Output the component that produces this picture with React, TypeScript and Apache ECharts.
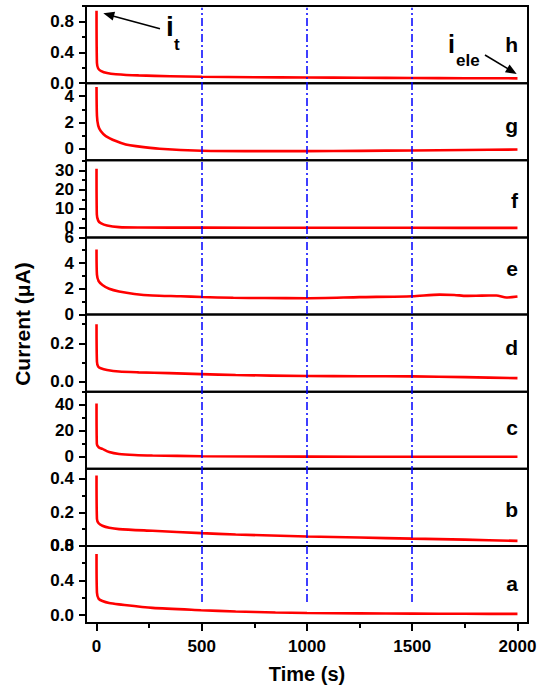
import React, { useEffect, useRef } from "react";
import * as echarts from "echarts";

// ---------- data ----------
const panelNames = ["h", "g", "f", "e", "d", "c", "b", "a"];

const curveH: [number, number][] = [
  [0, 0.94], [2, 0.26], [8, 0.19], [20, 0.16], [50, 0.13], [92, 0.115], [200, 0.1],
  [350, 0.09], [500, 0.083], [750, 0.077], [1000, 0.072], [1250, 0.07], [1500, 0.066],
  [1750, 0.064], [2000, 0.062],
];
const curveG: [number, number][] = [
  [0, 4.7], [2, 2.5], [8, 1.75], [20, 1.34], [44, 0.95], [92, 0.57], [139, 0.31],
  [187, 0.18], [300, -0.02], [500, -0.17], [750, -0.2], [1000, -0.2], [1250, -0.18],
  [1500, -0.15], [1750, -0.12], [2000, -0.08],
];
const curveF: [number, number][] = [
  [0, 31], [1.5, 7], [8, 3.8], [20, 2.5], [50, 1.2], [107, 0.4], [200, 0.2],
  [500, 0.1], [1000, 0.05], [1500, 0.02], [2000, 0.0],
];
const curveE: [number, number][] = [
  [0, 5.05], [2, 3.1], [10, 2.6], [28, 2.3], [60, 2.0], [107, 1.79], [180, 1.6],
  [266, 1.48], [400, 1.42], [500, 1.36], [650, 1.3], [800, 1.28], [1000, 1.27],
  [1250, 1.35], [1500, 1.42], [1630, 1.55], [1700, 1.52], [1757, 1.45], [1830, 1.47],
  [1900, 1.48], [1947, 1.32], [2000, 1.4],
];
const curveD: [number, number][] = [
  [0, 0.3], [2, 0.105], [8, 0.08], [20, 0.071], [50, 0.062], [107, 0.054], [200, 0.05],
  [345, 0.046], [497, 0.041], [661, 0.036], [1000, 0.031], [1250, 0.03], [1500, 0.029],
  [1750, 0.025], [2000, 0.02],
];
const curveC: [number, number][] = [
  [0, 41], [1.5, 10], [10, 7.5], [28, 6.2], [60, 3.8], [107, 2.3], [180, 1.5],
  [266, 1.1], [500, 0.6], [1000, 0.3], [1500, 0.2], [2000, 0.2],
];
const curveB: [number, number][] = [
  [0, 0.42], [2, 0.16], [10, 0.135], [28, 0.12], [60, 0.108], [107, 0.1], [266, 0.09],
  [497, 0.076], [661, 0.068], [1000, 0.056], [1250, 0.05], [1500, 0.043], [1750, 0.037],
  [2000, 0.03],
];
const curveA: [number, number][] = [
  [0, 0.707], [2, 0.26], [10, 0.19], [28, 0.163], [60, 0.14], [107, 0.125], [266, 0.085],
  [497, 0.058], [661, 0.042], [850, 0.032], [1000, 0.026], [1250, 0.021], [1500, 0.018],
  [1750, 0.016], [2000, 0.015],
];
const panelCurves = [curveH, curveG, curveF, curveE, curveD, curveC, curveB, curveA];

const yMin = [0, -0.9, -5, 0, -0.05, -9, 0, -0.09];
const yMax = [1.0, 5.0, 35.5, 6, 0.35, 50, 0.46, 0.8];
const yMajorTicks = [
  [0, 0.4, 0.8], [0, 2, 4], [0, 10, 20, 30], [0, 2, 4, 6],
  [0, 0.2], [0, 20, 40], [0, 0.2, 0.4], [0, 0.4, 0.8],
];
const yMinorTicks = [
  [0.2, 0.6, 1.0], [1, 3, 5], [5, 15, 25, 35], [1, 3, 5],
  [0.1, 0.3], [10, 30, 50], [0.1, 0.3], [0.2, 0.6],
];
const yDecimals = [1, 0, 0, 0, 1, 0, 1, 1];

const xMin = -50;
const xMax = 2050;
const xMajorTicks = [0, 500, 1000, 1500, 2000];
const xMinorTicks = [250, 750, 1250, 1750];
const guideTimes = [500, 1000, 1500];

const xTitle = "Time (s)";
const yTitle = "Current (\u03bcA)";

// ---------- layout / style ----------
const FONT = "'Liberation Sans', Arial, sans-serif";
const W = 545;
const H = 687;
const PLOT_LEFT = 86;
const PLOT_RIGHT = 528;
const PLOT_TOP = 6;
const PLOT_BOTTOM = 623;
const N = panelNames.length;
const PANEL_H = (PLOT_BOTTOM - PLOT_TOP) / N;
const labelOffsets = [38, 42, 40, 31, 33, 36, 41, 38];
const guideSpan = [0.034, 0.997];

function arrow(tail: [number, number], tip: [number, number], headLen: number, headHalf: number) {
  const dx = tip[0] - tail[0];
  const dy = tip[1] - tail[1];
  const len = Math.sqrt(dx * dx + dy * dy);
  const ux = dx / len;
  const uy = dy / len;
  const bx = tip[0] - ux * headLen;
  const by = tip[1] - uy * headLen;
  const nx = -uy;
  const ny = ux;
  return [
    {
      type: "line",
      shape: { x1: tail[0], y1: tail[1], x2: bx + ux * 2, y2: by + uy * 2 },
      style: { stroke: "#000", lineWidth: 1.6 },
      z: 20,
    },
    {
      type: "polygon",
      shape: {
        points: [
          [tip[0], tip[1]],
          [bx + nx * headHalf, by + ny * headHalf],
          [bx - nx * headHalf, by - ny * headHalf],
        ],
      },
      style: { fill: "#000" },
      z: 20,
    },
  ];
}

export default function App() {
  const ref = useRef<HTMLDivElement>(null);

  useEffect(() => {
    if (!ref.current) return;
    const chart = echarts.init(ref.current, undefined, { renderer: "svg" });

    const grids: any[] = panelNames.map((_, i) => ({
      left: PLOT_LEFT,
      width: PLOT_RIGHT - PLOT_LEFT,
      top: PLOT_TOP + i * PANEL_H,
      height: PANEL_H,
      show: true,
      borderColor: "#000",
      borderWidth: 2,
      backgroundColor: "transparent",
      containLabel: false,
    }));
    grids.push({
      left: PLOT_LEFT,
      width: PLOT_RIGHT - PLOT_LEFT,
      top: PLOT_TOP,
      height: PLOT_BOTTOM - PLOT_TOP,
      show: false,
    });
    const overlayGrid = N;

    const xAxes: any[] = panelNames.map((_, i) => ({
      type: "value",
      gridIndex: i,
      position: "bottom",
      min: xMin,
      max: xMax,
      show: i === N - 1,
      axisLine: { show: true, onZero: false, lineStyle: { color: "#000", width: 2 } },
      axisTick: {
        show: true,
        inside: false,
        length: 8,
        customValues: xMajorTicks,
        lineStyle: { color: "#000", width: 2 },
      },
      axisLabel: {
        show: true,
        customValues: xMajorTicks,
        margin: 15,
        color: "#000",
        fontFamily: FONT,
        fontWeight: "bold",
        fontSize: 17,
        formatter: (v: number) => String(Math.round(v)),
      },
      splitLine: { show: false },
    }));
    // minor x ticks on bottom panel
    xAxes.push({
      type: "value",
      gridIndex: N - 1,
      position: "bottom",
      min: xMin,
      max: xMax,
      axisLine: { show: false, onZero: false },
      axisTick: {
        show: true,
        inside: false,
        length: 5,
        customValues: xMinorTicks,
        lineStyle: { color: "#000", width: 2 },
      },
      axisLabel: { show: false },
      splitLine: { show: false },
    });
    xAxes.push({ type: "value", gridIndex: overlayGrid, min: xMin, max: xMax, show: false });
    const overlayX = xAxes.length - 1;

    const yAxes: any[] = panelNames.map((_, i) => ({
      type: "value",
      gridIndex: i,
      position: "left",
      min: yMin[i],
      max: yMax[i],
      axisLine: { show: true, onZero: false, lineStyle: { color: "#000", width: 2 } },
      axisTick: {
        show: true,
        inside: false,
        length: 7,
        customValues: yMajorTicks[i],
        lineStyle: { color: "#000", width: 2 },
      },
      axisLabel: {
        show: true,
        customValues: yMajorTicks[i],
        margin: 12,
        color: "#000",
        fontFamily: FONT,
        fontWeight: "bold",
        fontSize: 17,
        formatter: (v: number) => v.toFixed(yDecimals[i]),
      },
      splitLine: { show: false },
    }));
    panelNames.forEach((_, i) => {
      yAxes.push({
        type: "value",
        gridIndex: i,
        position: "left",
        min: yMin[i],
        max: yMax[i],
        axisLine: { show: false, onZero: false },
        axisTick: {
          show: true,
          inside: false,
          length: 4,
          customValues: yMinorTicks[i],
          lineStyle: { color: "#000", width: 2 },
        },
        axisLabel: { show: false },
        splitLine: { show: false },
      });
    });
    yAxes.push({ type: "value", gridIndex: overlayGrid, min: 0, max: 1, show: false });
    const overlayY = yAxes.length - 1;

    const series: any[] = panelCurves.map((data, i) => ({
      type: "line",
      xAxisIndex: i,
      yAxisIndex: i,
      data,
      showSymbol: false,
      symbol: "none",
      smooth: 0.25,
      lineStyle: { color: "#ff0000", width: 2.6 },
      z: 3,
    }));
    series.push({
      type: "line",
      xAxisIndex: overlayX,
      yAxisIndex: overlayY,
      data: [],
      z: 5,
      markLine: {
        silent: true,
        symbol: ["none", "none"],
        label: { show: false },
        lineStyle: { color: "#0000ff", width: 1.5, type: [8, 3, 2, 3] },
        data: guideTimes.map((t) => [
          { coord: [t, guideSpan[0]] },
          { coord: [t, guideSpan[1]] },
        ]),
      },
    });

    const graphics: any[] = [];
    panelNames.forEach((name, i) => {
      graphics.push({
        type: "text",
        x: 518,
        y: PLOT_TOP + i * PANEL_H + labelOffsets[i],
        style: {
          text: name,
          fontFamily: FONT,
          fontWeight: "bold",
          fontSize: 21,
          fill: "#000",
          align: "right",
          verticalAlign: "middle",
        },
        z: 20,
      });
    });
    graphics.push({
      type: "text",
      x: 22,
      y: 324,
      rotation: Math.PI / 2,
      style: {
        text: yTitle,
        fontFamily: FONT,
        fontWeight: "bold",
        fontSize: 21,
        fill: "#000",
        align: "center",
        verticalAlign: "middle",
      },
      z: 20,
    });
    graphics.push({
      type: "text",
      x: 307,
      y: 674,
      style: {
        text: xTitle,
        fontFamily: FONT,
        fontWeight: "bold",
        fontSize: 20,
        fill: "#000",
        align: "center",
        verticalAlign: "middle",
      },
      z: 20,
    });
    // i_t annotation
    graphics.push({
      type: "text",
      x: 166,
      y: 26,
      style: { text: "i", fontFamily: FONT, fontWeight: "bold", fontSize: 28, fill: "#000", align: "left", verticalAlign: "middle" },
      z: 20,
    });
    graphics.push({
      type: "text",
      x: 174,
      y: 44,
      style: { text: "t", fontFamily: FONT, fontWeight: "bold", fontSize: 17, fill: "#000", align: "left", verticalAlign: "middle" },
      z: 20,
    });
    graphics.push(...arrow([160, 28.7], [103.3, 13.3], 11, 4.5));
    // i_ele annotation
    graphics.push({
      type: "text",
      x: 448,
      y: 44,
      style: { text: "i", fontFamily: FONT, fontWeight: "bold", fontSize: 25, fill: "#000", align: "left", verticalAlign: "middle" },
      z: 20,
    });
    graphics.push({
      type: "text",
      x: 456,
      y: 60,
      style: { text: "ele", fontFamily: FONT, fontWeight: "bold", fontSize: 17, fill: "#000", align: "left", verticalAlign: "middle" },
      z: 20,
    });
    graphics.push(...arrow([485, 55], [516.7, 74], 11, 4.5));

    chart.setOption({
      animation: false,
      backgroundColor: "#fff",
      grid: grids,
      xAxis: xAxes,
      yAxis: yAxes,
      series,
      graphic: graphics,
    });

    return () => chart.dispose();
  }, []);

  return (
    <div
      ref={ref}
      style={{ position: "fixed", left: 0, top: 0, width: W, height: H, background: "#fff" }}
    />
  );
}
